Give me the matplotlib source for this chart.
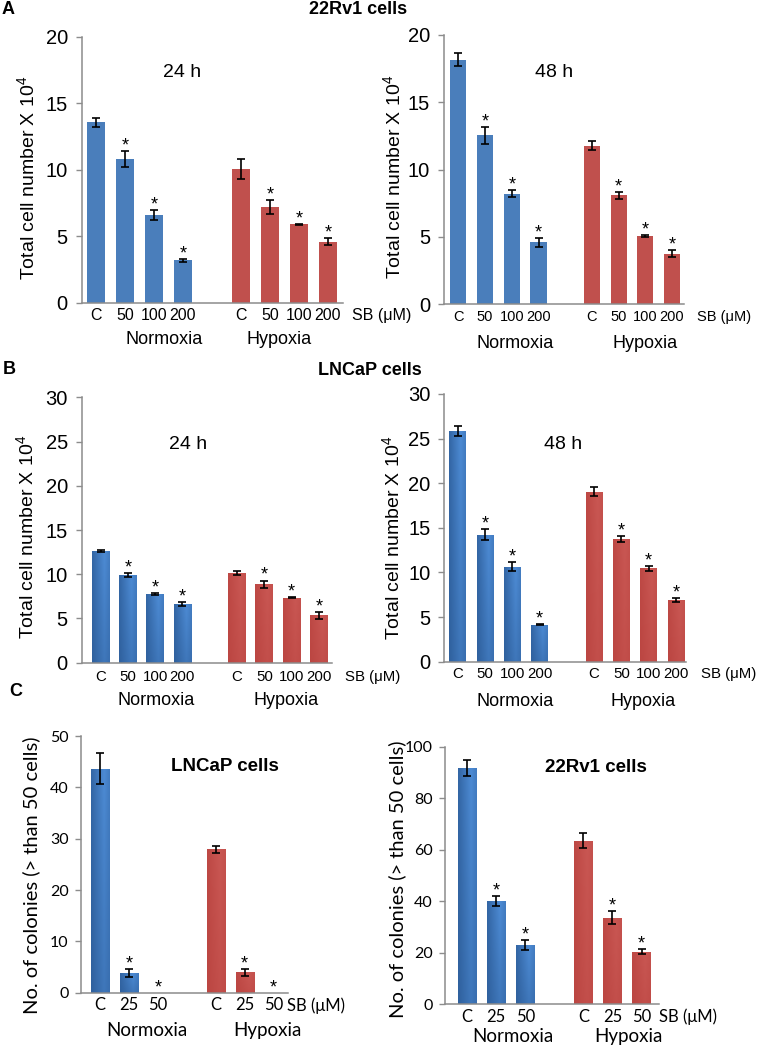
import numpy as np
import matplotlib
matplotlib.use('Agg')
import matplotlib.pyplot as plt
from matplotlib.colors import to_rgb

plt.rcParams['font.family'] = ['Liberation Sans', 'DejaVu Sans']
plt.rcParams['mathtext.fontset'] = 'custom'
plt.rcParams['mathtext.rm'] = 'Liberation Sans'
plt.rcParams['mathtext.it'] = 'Liberation Sans'

# ---------------- data ----------------
doses_cell = ['C', '50', '100', '200']
doses_col = ['C', '25', '50']
groups = ['Normoxia', 'Hypoxia']

# A: 22Rv1 cells, total cell number x 10^4
a24_norm = [13.55, 10.8, 6.6, 3.2]
a24_norm_err = [0.35, 0.6, 0.37, 0.12]
a24_hyp = [10.05, 7.2, 5.9, 4.6]
a24_hyp_err = [0.78, 0.5, 0.05, 0.27]

a48_norm = [18.15, 12.55, 8.2, 4.58]
a48_norm_err = [0.48, 0.64, 0.28, 0.32]
a48_hyp = [11.78, 8.07, 5.04, 3.72]
a48_hyp_err = [0.35, 0.26, 0.07, 0.26]

# B: LNCaP cells
b24_norm = [12.62, 9.95, 7.77, 6.68]
b24_norm_err = [0.14, 0.22, 0.15, 0.22]
b24_hyp = [10.15, 8.86, 7.35, 5.36]
b24_hyp_err = [0.26, 0.43, 0.03, 0.4]

b48_norm = [25.88, 14.25, 10.62, 4.15]
b48_norm_err = [0.55, 0.62, 0.5, 0.04]
b48_hyp = [19.05, 13.75, 10.47, 6.92]
b48_hyp_err = [0.5, 0.32, 0.3, 0.22]

# C: colonies (> 50 cells)
c_lncap_norm = [43.6, 3.9, 0.0]
c_lncap_norm_err = [3.0, 0.75, 0.0]
c_lncap_hyp = [27.9, 4.0, 0.0]
c_lncap_hyp_err = [0.65, 0.7, 0.0]

c_22rv1_norm = [91.7, 40.2, 22.9]
c_22rv1_norm_err = [3.0, 1.9, 1.9]
c_22rv1_hyp = [63.5, 33.6, 20.4]
c_22rv1_hyp_err = [2.9, 2.6, 0.9]

# significance flags (True -> asterisk)
star_cell = [False, True, True, True]
star_col = [False, True, True]

# ---------------- style ----------------
W, H = 762, 1050
BLUE = '#4a7ebb'
RED = '#c0504d'
BLUE_DARK = '#2a5994'
BLUE_LIGHT = '#4d8bd4'
AXC = '#8c8c8c'
PT = 72.0 / 100.0  # points per pixel

fig = plt.figure(figsize=(W / 100, H / 100), dpi=100)


def box(l, r, t, b):
    return [l / W, 1 - b / H, (r - l) / W, (b - t) / H]


def shade(ax, bars, dark, light):
    dark = np.array(to_rgb(dark))
    light = np.array(to_rgb(light))
    u = np.linspace(0, 1, 40)
    t = np.clip(np.where(u < 0.7, 0.25 + 0.75 * u / 0.7, 1 - (u - 0.7) / 0.3 * 0.3), 0, 1)
    v = np.linspace(0.6, 1.0, 40)[:, None]
    f = (t[None, :] * v)[..., None]
    img = dark + (light - dark) * f
    for b in bars:
        h = b.get_height()
        if h <= 0:
            continue
        x0, y0, w = b.get_x(), b.get_y(), b.get_width()
        im = ax.imshow(img, extent=(x0, x0 + w, y0, y0 + h), origin='lower',
                       aspect='auto', interpolation='bilinear', zorder=2)
        im.set_clip_path(b)


def panel(cfg, labels, stars, norm, norm_err, hyp, hyp_err):
    ax = fig.add_axes(box(*cfg['box']))
    fam = cfg.get('font', ['Liberation Sans', 'DejaVu Sans'])
    n = len(norm)
    xn = np.arange(n)
    xh = np.arange(n) + n + 1
    bn = ax.bar(xn, norm, width=cfg['bw'], color=BLUE, zorder=1)
    bh = ax.bar(xh, hyp, width=cfg['bw'], color=RED, zorder=1)
    if cfg['grad']:
        shade(ax, bn, BLUE_DARK, BLUE_LIGHT)
        shade(ax, bh, '#b9433f', '#c95753')
    for xs, vals, errs in ((xn, norm, norm_err), (xh, hyp, hyp_err)):
        vals = np.asarray(vals)
        errs = np.asarray(errs)
        m = errs > 0
        ax.errorbar(xs[m], vals[m], yerr=errs[m], fmt='none', ecolor='black',
                    elinewidth=1.2, capsize=2.8, capthick=1.2, zorder=4)
        for x, v, e, s in zip(xs, vals, errs, stars):
            if s:
                ax.annotate('*', xy=(x, v + e), xytext=(0, 0.4),
                            textcoords='offset points', ha='center', va='baseline',
                            fontsize=13, family=['Liberation Sans'], zorder=5)
    ax.set_xlim(*cfg['xlim'])
    ax.set_ylim(*cfg['ylim'])
    ax.set_yticks(cfg['yticks'])
    ax.set_yticklabels([str(t) for t in cfg['yticks']], family=fam,
                       fontsize=cfg['ytfs'])
    ax.set_xticks(np.concatenate([xn, xh]))
    ax.set_xticklabels(list(labels) * 2, family=fam, fontsize=cfg['xtfs'])
    ax.tick_params(axis='x', length=0, pad=cfg['xpad'])
    ax.tick_params(axis='y', length=4, width=1, color=AXC, pad=cfg.get('ypad', 6))
    for s in ('top', 'right'):
        ax.spines[s].set_visible(False)
    for s in ('left', 'bottom'):
        ax.spines[s].set_color(AXC)
        ax.spines[s].set_linewidth(1.1)
    ax.set_facecolor('none')
    # SB (uM) label after the last tick
    ax.annotate('SB (μM)', xy=(xh[-1], 0), xycoords=('data', 'axes fraction'),
                xytext=(cfg['sb'] * PT, -cfg['xpad']), textcoords='offset points',
                ha='left', va='top', family=fam, fontsize=cfg['xtfs'])
    # group labels
    for g, gx in zip(groups, cfg['grp']):
        ax.annotate(g, xy=(gx, 0), xycoords=('data', 'axes fraction'),
                    xytext=(0, -cfg['grp_off'] * PT), textcoords='offset points',
                    ha='center', va='center', family=fam, fontsize=cfg['gfs'])
    # inner title
    ax.text(cfg['title_xy'][0], cfg['title_xy'][1], cfg['title'],
            transform=ax.transAxes, ha='center', va='center',
            fontsize=cfg['tfs'], fontweight=cfg.get('tw', 'normal'),
            family=['Liberation Sans'])
    # y label
    ax.text(cfg['ylab'][0], cfg['ylab'][1], cfg['ylabel'], transform=ax.transAxes,
            rotation=90, ha='center', va='center', family=fam, fontsize=cfg['ylfs'])
    return ax


cell_ylabel = 'Total cell number X 10$^{4}$'
col_ylabel = 'No. of colonies (> than 50 cells)'
CAL = ['Lato', 'DejaVu Sans']

cfgA24 = dict(box=(81.7, 343, 36.7, 302.7), xlim=(-0.49, 8.52), bw=0.62,
              ylim=(0, 20), yticks=[0, 5, 10, 15, 20], grad=False,
              title='24 h', title_xy=(0.384, 0.867), tfs=14,
              ylab=(-0.209, 0.469), ylabel=cell_ylabel, ylfs=14,
              sb=24, xpad=3.5, grp=(2.34, 6.3), grp_off=37, xtfs=11.5, ytfs=14.5, gfs=13)
cfgA48 = dict(box=(444, 684, 35, 304), xlim=(-0.54, 8.45), bw=0.6,
              ylim=(0, 20), yticks=[0, 5, 10, 15, 20], grad=False,
              title='48 h', title_xy=(0.458, 0.862), tfs=14,
              ylab=(-0.2125, 0.472), ylabel=cell_ylabel, ylfs=14,
              sb=25, xpad=4, grp=(2.12, 7.0), grp_off=39, xtfs=10.5, ytfs=14.5, gfs=13)
cfgB24 = dict(box=(81.7, 332, 397.3, 662.7), xlim=(-0.69, 8.48), bw=0.65,
              ylim=(0, 30), yticks=[0, 5, 10, 15, 20, 25, 30], grad=True,
              title='24 h', title_xy=(0.425, 0.824), tfs=14,
              ylab=(-0.222, 0.474), ylabel=cell_ylabel, ylfs=14,
              sb=26, xpad=5, grp=(2.03, 6.8), grp_off=38, xtfs=10.8, ytfs=14.5, gfs=13)
cfgB48 = dict(box=(444.3, 686, 394, 661.7), xlim=(-0.49, 8.37), bw=0.61,
              ylim=(0, 30), yticks=[0, 5, 10, 15, 20, 25, 30], grad=True,
              title='48 h', title_xy=(0.491, 0.813), tfs=14,
              ylab=(-0.216, 0.462), ylabel=cell_ylabel, ylfs=14,
              sb=25, xpad=4, grp=(2.1, 6.8), grp_off=40, xtfs=10.8, ytfs=14.5, gfs=13)
cfgCL = dict(box=(81, 288, 736, 992.7), xlim=(-0.66, 6.5), bw=0.63,
             ylim=(0, 50), yticks=[0, 10, 20, 30, 40, 50], grad=True,
             title='LNCaP cells', title_xy=(0.696, 0.883), tfs=13.5, tw='bold',
             ylab=(-0.24, 0.459), ylabel=col_ylabel, ylfs=14.5, font=CAL, ypad=5,
             sb=13, xpad=3.2, grp=(1.62, 5.78), grp_off=38, xtfs=12, ytfs=11.5, gfs=13.5)
cfgCR = dict(box=(445, 659, 746.7, 1004.3), xlim=(-0.76, 6.6), bw=0.63,
             ylim=(0, 100), yticks=[0, 20, 40, 60, 80, 100], grad=True,
             title='22Rv1 cells', title_xy=(0.706, 0.921), tfs=13.5, tw='bold',
             ylab=(-0.222, 0.485), ylabel=col_ylabel, ylfs=14.5, font=CAL, ypad=5,
             sb=17, xpad=3.2, grp=(1.58, 5.54), grp_off=32, xtfs=12, ytfs=11.5, gfs=13.5)

panel(cfgA24, doses_cell, star_cell, a24_norm, a24_norm_err, a24_hyp, a24_hyp_err)
panel(cfgA48, doses_cell, star_cell, a48_norm, a48_norm_err, a48_hyp, a48_hyp_err)
panel(cfgB24, doses_cell, star_cell, b24_norm, b24_norm_err, b24_hyp, b24_hyp_err)
panel(cfgB48, doses_cell, star_cell, b48_norm, b48_norm_err, b48_hyp, b48_hyp_err)
panel(cfgCL, doses_col, star_col, c_lncap_norm, c_lncap_norm_err, c_lncap_hyp, c_lncap_hyp_err)
panel(cfgCR, doses_col, star_col, c_22rv1_norm, c_22rv1_norm_err, c_22rv1_hyp, c_22rv1_hyp_err)

# figure-level labels
bold = dict(fontweight='bold', family=['Liberation Sans'])
fig.text(8 / W, 1 - 10 / H, 'A', ha='center', va='center', fontsize=13, **bold)
fig.text(358 / W, 1 - 10 / H, '22Rv1 cells', ha='center', va='center', fontsize=13, **bold)
fig.text(9 / W, 1 - 369 / H, 'B', ha='center', va='center', fontsize=13, **bold)
fig.text(370 / W, 1 - 370 / H, 'LNCaP cells', ha='center', va='center', fontsize=13, **bold)
fig.text(16 / W, 1 - 692 / H, 'C', ha='center', va='center', fontsize=13, **bold)

fig.savefig('out.png', dpi=100, facecolor='white')
